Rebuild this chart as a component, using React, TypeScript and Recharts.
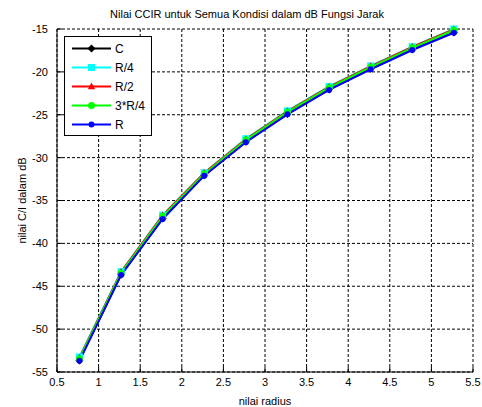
import React from 'react';
import { LineChart, Line, XAxis, YAxis, CartesianGrid, Legend } from 'recharts';

const radius = [0.77, 1.27, 1.77, 2.27, 2.77, 3.27, 3.77, 4.27, 4.77, 5.27];
const cVals = [-53.65, -43.65, -37.1, -32.05, -28.15, -24.9, -22.05, -19.65, -17.4, -15.4];
const r4Vals = [-53.25, -43.3, -36.7, -31.75, -27.8, -24.55, -21.7, -19.3, -17.05, -15.0];
const r2Vals = [-53.35, -43.35, -36.75, -31.8, -27.85, -24.6, -21.75, -19.35, -17.1, -15.05];
const r34Vals = [-53.45, -43.45, -36.85, -31.9, -27.95, -24.7, -21.85, -19.45, -17.2, -15.15];
const rVals = [-53.7, -43.7, -37.15, -32.1, -28.2, -24.95, -22.1, -19.7, -17.45, -15.45];

const xTicks = [0.5, 1, 1.5, 2, 2.5, 3, 3.5, 4, 4.5, 5, 5.5];
const yTicks = [-55, -50, -45, -40, -35, -30, -25, -20, -15];

const FONT = '"Liberation Sans", Arial, sans-serif';

const series = [
  { key: 'C', name: 'C', color: '#000000', marker: 'diamond' },
  { key: 'R4', name: 'R/4', color: '#00FFFF', marker: 'square' },
  { key: 'R2', name: 'R/2', color: '#FF0000', marker: 'triangle' },
  { key: 'R34', name: '3*R/4', color: '#00FF00', marker: 'circle' },
  { key: 'R', name: 'R', color: '#0000FF', marker: 'dot' },
];

const data = radius.map((x, i) => ({
  x,
  C: cVals[i],
  R4: r4Vals[i],
  R2: r2Vals[i],
  R34: r34Vals[i],
  R: rVals[i],
}));

function Marker({ type, cx, cy, color }: { type: string; cx: number; cy: number; color: string }) {
  if (type === 'diamond') {
    return <polygon points={`${cx},${cy - 4} ${cx + 4},${cy} ${cx},${cy + 4} ${cx - 4},${cy}`} fill={color} />;
  }
  if (type === 'square') {
    return <rect x={cx - 3.5} y={cy - 3.5} width={7} height={7} fill={color} />;
  }
  if (type === 'triangle') {
    return <polygon points={`${cx},${cy - 4} ${cx + 3.7},${cy + 2.7} ${cx - 3.7},${cy + 2.7}`} fill={color} />;
  }
  if (type === 'circle') {
    return <circle cx={cx} cy={cy} r={3.5} fill={color} />;
  }
  return <circle cx={cx} cy={cy} r={3} fill={color} />;
}

const LegendBox = () => (
  <svg width={88} height={100} style={{ display: 'block' }}>
    <rect x={0.5} y={0.5} width={87} height={99} fill="#fff" stroke="#000" />
    {series.map((s, i) => {
      const y = 12.5 + i * 19;
      return (
        <g key={s.key}>
          <line x1={8} x2={47} y1={y} y2={y} stroke={s.color} strokeWidth={2} />
          <Marker type={s.marker} cx={27.5} cy={y} color={s.color} />
          <text x={51} y={y + 4} fontSize={12} fontFamily={FONT} fill="#000">
            {s.name}
          </text>
        </g>
      );
    })}
  </svg>
);

export default function App() {
  return (
    <div style={{ position: 'absolute', left: 0, top: 0, width: 482, height: 407, background: '#fff' }}>
      <div
        style={{
          position: 'absolute',
          top: 8,
          left: 0,
          width: 494,
          textAlign: 'center',
          fontFamily: FONT,
          fontSize: 11,
          lineHeight: '13px',
          color: '#000',
        }}
      >
        Nilai CCIR untuk Semua Kondisi dalam dB Fungsi Jarak
      </div>
      <LineChart width={482} height={407} data={data} margin={{ top: 29, right: 9, bottom: 0, left: 0 }}>
        <CartesianGrid stroke="#000" strokeDasharray="3 2" strokeWidth={1} />
        <XAxis
          dataKey="x"
          type="number"
          domain={[0.5, 5.5]}
          ticks={xTicks}
          height={35}
          tickSize={-5}
          tickMargin={11}
          axisLine={{ stroke: '#000' }}
          tickLine={{ stroke: '#000' }}
          tick={{ fill: '#000', fontSize: 11, fontFamily: FONT }}
          label={{ value: 'nilai radius', position: 'insideBottom', offset: 2, fill: '#000', fontSize: 11, fontFamily: FONT }}
        />
        <XAxis
          xAxisId="top"
          dataKey="x"
          type="number"
          orientation="top"
          domain={[0.5, 5.5]}
          ticks={xTicks}
          height={0}
          tickSize={-5}
          tick={false}
          axisLine={{ stroke: '#000' }}
          tickLine={{ stroke: '#000' }}
        />
        <YAxis
          type="number"
          domain={[-55, -15]}
          ticks={yTicks}
          width={57}
          tickSize={-5}
          tickMargin={14}
          axisLine={{ stroke: '#000' }}
          tickLine={{ stroke: '#000' }}
          tick={{ fill: '#000', fontSize: 11, fontFamily: FONT }}
          label={{ value: 'nilai C/I dalam dB', angle: -90, position: 'center', dx: -6, fill: '#000', fontSize: 11, fontFamily: FONT }}
        />
        <YAxis
          yAxisId="right"
          type="number"
          orientation="right"
          domain={[-55, -15]}
          ticks={yTicks}
          width={0}
          tickSize={-5}
          tick={false}
          axisLine={{ stroke: '#000' }}
          tickLine={{ stroke: '#000' }}
        />
        <Legend
          layout="vertical"
          align="center"
          verticalAlign="middle"
          wrapperStyle={{ left: 64, top: 36, width: 88, height: 100 }}
          content={() => <LegendBox />}
        />
        {series.map((s) => (
          <Line
            key={s.key}
            dataKey={s.key}
            name={s.name}
            stroke={s.color}
            strokeWidth={2}
            isAnimationActive={false}
            dot={(p: any) => <Marker key={`${s.key}-${p.index}`} type={s.marker} cx={p.cx} cy={p.cy} color={s.color} />}
            activeDot={false}
          />
        ))}
      </LineChart>
    </div>
  );
}
